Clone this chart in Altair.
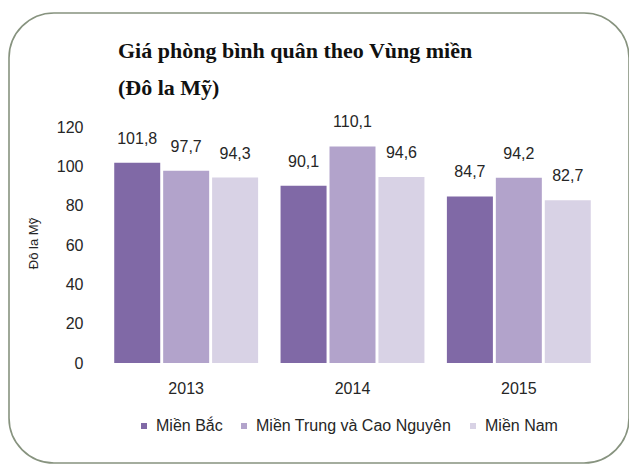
import altair as alt
import pandas as pd

years = ["2013", "2014", "2015"]
regions = ["Miền Bắc", "Miền Trung và Cao Nguyên", "Miền Nam"]
mien_bac = [101.8, 90.1, 84.7]
mien_trung = [97.7, 110.1, 94.2]
mien_nam = [94.3, 94.6, 82.7]
colors = ["#8069a6", "#b2a3cb", "#d8d2e5"]
y_ticks = [0, 20, 40, 60, 80, 100, 120]
title_lines = ["Giá phòng bình quân theo Vùng miền", "(Đô la Mỹ)"]

rows = []
for series, vals in zip(regions, [mien_bac, mien_trung, mien_nam]):
    for yr, v in zip(years, vals):
        rows.append({"Năm": yr, "Vùng": series, "Giá": v,
                     "Nhãn": f"{v:.1f}".replace(".", ",")})
df = pd.DataFrame(rows)

FONT = "Liberation Sans"
TXT = "#262626"
FS = 16

x = alt.X("Năm:N", sort=years,
          scale=alt.Scale(paddingInner=0.135, paddingOuter=0.0675),
          axis=alt.Axis(title=None, labelAngle=0, domain=False, ticks=False,
                        labelPadding=17, labelFont=FONT, labelFontSize=FS,
                        labelColor=TXT))
xo = alt.XOffset("Vùng:N", sort=regions,
                 scale=alt.Scale(paddingInner=0.06, paddingOuter=0))
y = alt.Y("Giá:Q", scale=alt.Scale(domain=[0, 120], nice=False),
          axis=alt.Axis(values=y_ticks, title="Đô la Mỹ", grid=False,
                        domain=False, ticks=False, labelPadding=20,
                        labelFont=FONT, labelFontSize=FS, labelColor=TXT,
                        titleFont=FONT, titleFontSize=13, titleFontWeight="normal",
                        titleColor=TXT, titleX=-70, titleY=116, titleAngle=-90,
                        titleAlign="center", titleBaseline="middle"))

bars = alt.Chart(df).mark_bar().encode(
    x=x, xOffset=xo, y=y,
    color=alt.Color("Vùng:N", sort=regions,
                    scale=alt.Scale(domain=regions, range=colors),
                    legend=alt.Legend(title=None, orient="none", direction="horizontal",
                                      legendX=33, legendY=291, symbolType="square",
                                      symbolSize=36, symbolStrokeWidth=0,
                                      labelFont=FONT, labelFontSize=FS, labelColor=TXT,
                                      labelOffset=4, columnPadding=13, labelLimit=400)),
)

labels = alt.Chart(df).mark_text(baseline="alphabetic", dy=-19, font=FONT,
                                 fontSize=FS, color=TXT).encode(
    x=x, xOffset=xo, y=y, text="Nhãn:N"
)

frame = alt.Chart(pd.DataFrame({"k": [0]})).mark_rect(
    cornerRadius=45, fill="white", fillOpacity=0, stroke="#87937f", strokeWidth=1.6
).encode(x=alt.value(-94), x2=alt.value(526), y=alt.value(-114), y2=alt.value(336))

title_layers = []
for line, ypos in zip(title_lines, [-69, -32]):
    title_layers.append(
        alt.Chart(pd.DataFrame({"t": [line]})).mark_text(
            align="left", baseline="alphabetic", font="Liberation Serif", fontSize=22,
            fontWeight="bold", color="#111"
        ).encode(text="t:N", x=alt.value(15), y=alt.value(ypos))
    )

chart = alt.layer(frame, bars, labels, *title_layers).properties(
    width=499, height=236,
    padding={"left": 95, "top": 119, "right": 27, "bottom": 101},
    autosize=alt.AutoSizeParams(type="none"),
).configure_view(stroke=None)

chart.save("out.html", embed_options={"renderer": "svg", "actions": False})
